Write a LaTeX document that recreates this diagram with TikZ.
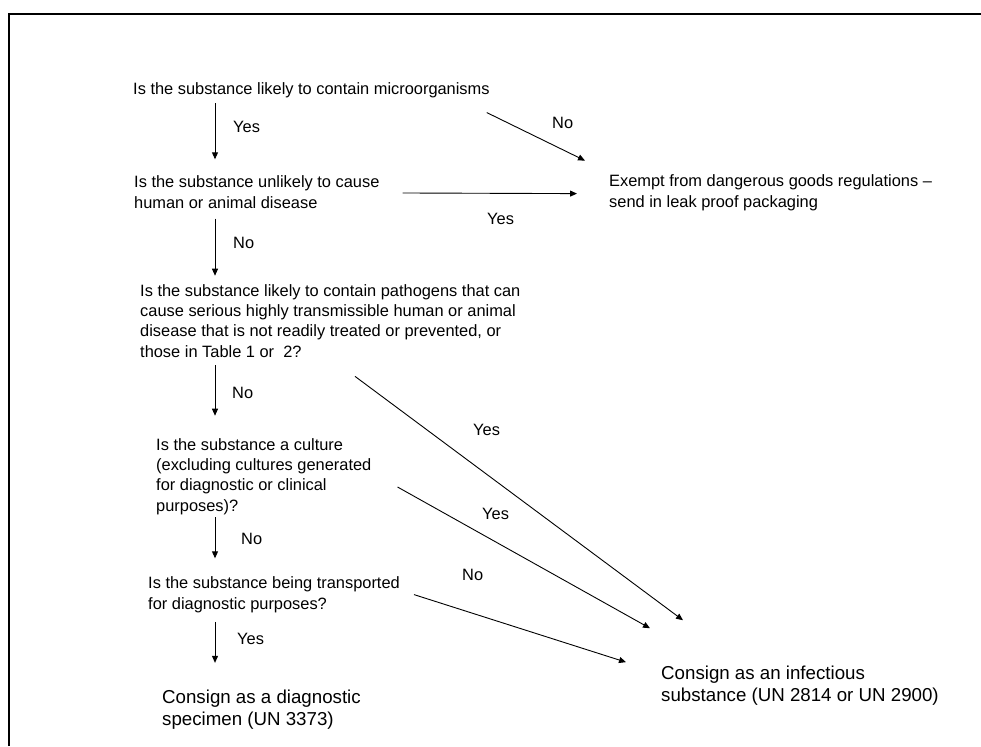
\documentclass[tikz,border=0pt]{standalone}
\usepackage{fontspec}
\setmainfont{Liberation Sans}
\usetikzlibrary{arrows.meta,calc}
\tikzset{
  q/.style={anchor=base west, inner sep=0pt, align=left, font=\fontsize{16.4}{20.3}\selectfont},
  outcome/.style={q, font=\fontsize{18.7}{22}\selectfont},
  lbl/.style={anchor=base west, inner sep=0pt, font=\fontsize{16.4}{20}\selectfont},
  arr/.style={line width=0.9pt, -{Triangle[length=7pt,width=6pt]}}
}
\begin{document}
\begin{tikzpicture}[x=1pt,y=-1pt]
\useasboundingbox (0,0) rectangle (981,746);
\draw[line width=2pt] (9,746) -- (9,14) -- (981,14);   % frame
\coordinate (spine) at (215,0);
% questions (placed at the baseline of their last line)
\node[q] (q1) at (133,95) {Is the substance likely to contain microorganisms};
\node[q] (q2) at (134,208) {Is the substance unlikely to cause\\human or animal disease};
\node[q] (q3) at (140,357) {Is the substance likely to contain pathogens that can\\cause serious highly transmissible human or animal\\disease that is not readily treated or prevented, or\\those in Table 1 or\ \ 2?};
\node[q] (q4) at (156,511) {Is the substance a culture\\(excluding cultures generated\\for diagnostic or clinical\\purposes)?};
\node[q] (q5) at (148,609) {Is the substance being transported\\for diagnostic purposes?};
% outcomes
\node[q] (ex) at (609,207) {Exempt from dangerous goods regulations --\\send in leak proof packaging};
\node[outcome] (dg) at (162,725) {Consign as a diagnostic\\specimen (UN 3373)};
\node[outcome] (inf) at (661,701) {Consign as an infectious\\substance (UN 2814 or UN 2900)};
% down the left
\draw[arr] ($(q1.south -| spine)+(0,4.6)$) -- ($(q2.north -| spine)+(0,-16.3)$);
\draw[arr] ($(q2.south -| spine)+(0,10.3)$) -- ($(q3.north -| spine)+(0,-8.3)$);
\draw[arr] ($(q3.south -| spine)+(0,8)$) -- ($(q4.north -| spine)+(0,-22.3)$);
\draw[arr] ($(q4.south -| spine)+(0,2.7)$) -- ($(q5.north -| spine)+(0,-18.3)$);
\draw[arr] ($(q5.south -| spine)+(0,9.3)$) -- ($(dg.north -| spine)+(0,-26.4)$);
\node[lbl] (y1) at (233,133) {Yes};
\node[lbl] (n2) at (233,248) {No};
\node[lbl] (n3) at (232,398) {No};
\node[lbl] (n4) at (241,544) {No};
\node[lbl] (y5) at (237,644) {Yes};
% to the right
\draw[arr] ($(q1.south east)+(-3,14)$) -- ($(ex.north west)+(-24,-14)$);
\draw[arr] ($(q2.east)+(23,1)$) -- ($(ex.west)+(-32,1)$);
\draw[arr] ($(q3.south west)+(215,19)$) -- ($(inf.north west)+(22,-45)$);
\draw[arr] ($(q4.east)+(26,10.7)$) -- ($(inf.north west)+(-11,-37)$);
\draw[arr] ($(q5.east)+(14,0)$) -- ($(inf.west)+(-35,-23)$);
\node[lbl] (n6) at (552,129) {No};
\node[lbl] (y7) at (487,224) {Yes};
\node[lbl] (y8) at (473,435) {Yes};
\node[lbl] (y9) at (482,519) {Yes};
\node[lbl] (n10) at (462,580) {No};
\end{tikzpicture}
\end{document}
